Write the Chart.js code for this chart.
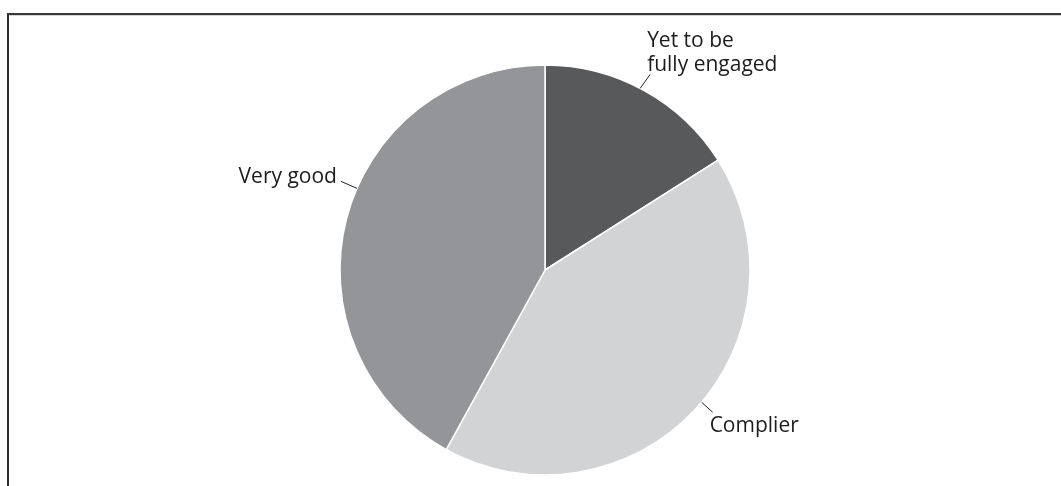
<!DOCTYPE html>
<html>
<head>
<meta charset="utf-8">
<script src="https://cdn.jsdelivr.net/npm/chart.js@4/dist/chart.umd.min.js"></script>
<style>
    html, body { margin: 0; padding: 0; background: #fff; }
    #wrap { position: relative; width: 1061px; height: 486px; overflow: hidden; }
    #marco {
        position: absolute; left: 7px; top: 13px; right: 0; bottom: 0;
        border-top: 2px solid #3a3a3a; border-left: 2px solid #2e2e2e;
        box-shadow: inset 0 1px 0 #d6d6d6;
    }
    #grafico { position: absolute; left: 0; top: 0; }
</style>
</head>
<body>
<div id="wrap">
    <div id="marco"></div>
    <canvas id="grafico" width="1061" height="486"></canvas>
</div>
<script>
// Categorías y porcentajes de la tarta (en sentido horario desde arriba)
var categorias = ['Yet to be fully engaged', 'Complier', 'Very good'];
var etiquetas = [['Yet to be', 'fully engaged'], ['Complier'], ['Very good']];
var valores = [16, 42, 42];
var colores = ['#58595b', '#d1d3d4', '#939598'];

// Dibuja las etiquetas con una pequeña línea guía hasta el borde de cada porción
var etiquetasPlugin = {
    id: 'etiquetasGuia',
    afterDatasetsDraw: function(chart, args, opts) {
        var ctx = chart.ctx;
        var arcos = chart.getDatasetMeta(0).data;
        ctx.save();
        ctx.font = opts.font;
        ctx.fillStyle = opts.color;
        ctx.strokeStyle = opts.lineColor;
        ctx.lineWidth = 1;
        arcos.forEach(function(arco, i) {
            var guia = opts.guias[i];
            var p = arco.getProps(['x', 'y', 'startAngle', 'endAngle', 'outerRadius'], true);
            var ang = p.startAngle + (p.endAngle - p.startAngle) * guia.en;
            var x0 = p.x + Math.cos(ang) * p.outerRadius;
            var y0 = p.y + Math.sin(ang) * p.outerRadius;
            var x1 = x0 + guia.dx;
            var y1 = y0 + guia.dy;
            ctx.beginPath();
            ctx.moveTo(x0, y0);
            ctx.lineTo(x1, y1);
            ctx.stroke();
            ctx.textAlign = guia.align;
            ctx.textBaseline = 'alphabetic';
            var lineas = etiquetas[i];
            lineas.forEach(function(texto, j) {
                var desdeAbajo = lineas.length - 1 - j;
                ctx.fillText(texto, x1 + guia.tx, y1 + guia.ty - desdeAbajo * opts.lineHeight);
            });
        });
        ctx.restore();
    }
};

var ctx = document.getElementById('grafico').getContext('2d');
var grafico = new Chart(ctx, {
    type: 'pie',
    data: {
        labels: categorias,
        datasets: [{
            data: valores,
            backgroundColor: colores,
            borderColor: '#ffffff',
            borderWidth: 1.5
        }]
    },
    options: {
        responsive: false,
        animation: false,
        radius: 205,
        layout: { padding: { left: 29, right: 0, top: 65, bottom: 11 } },
        plugins: {
            legend: { display: false },
            tooltip: { enabled: false },
            etiquetasGuia: {
                font: '21px "Open Sans", "Noto Sans", sans-serif',
                color: '#1e1b1c',
                lineColor: '#231f20',
                lineHeight: 24,
                guias: [
                    { en: 0.48, dx: 10, dy: -14, tx: -3, ty: -3, align: 'left' },
                    { en: 0.48, dx: 11, dy: 10, tx: -3, ty: 20, align: 'left' },
                    { en: 0.56, dx: -16, dy: -7, tx: -4, ty: 2, align: 'right' }
                ]
            }
        }
    },
    plugins: [etiquetasPlugin]
});
</script>
</body>
</html>
